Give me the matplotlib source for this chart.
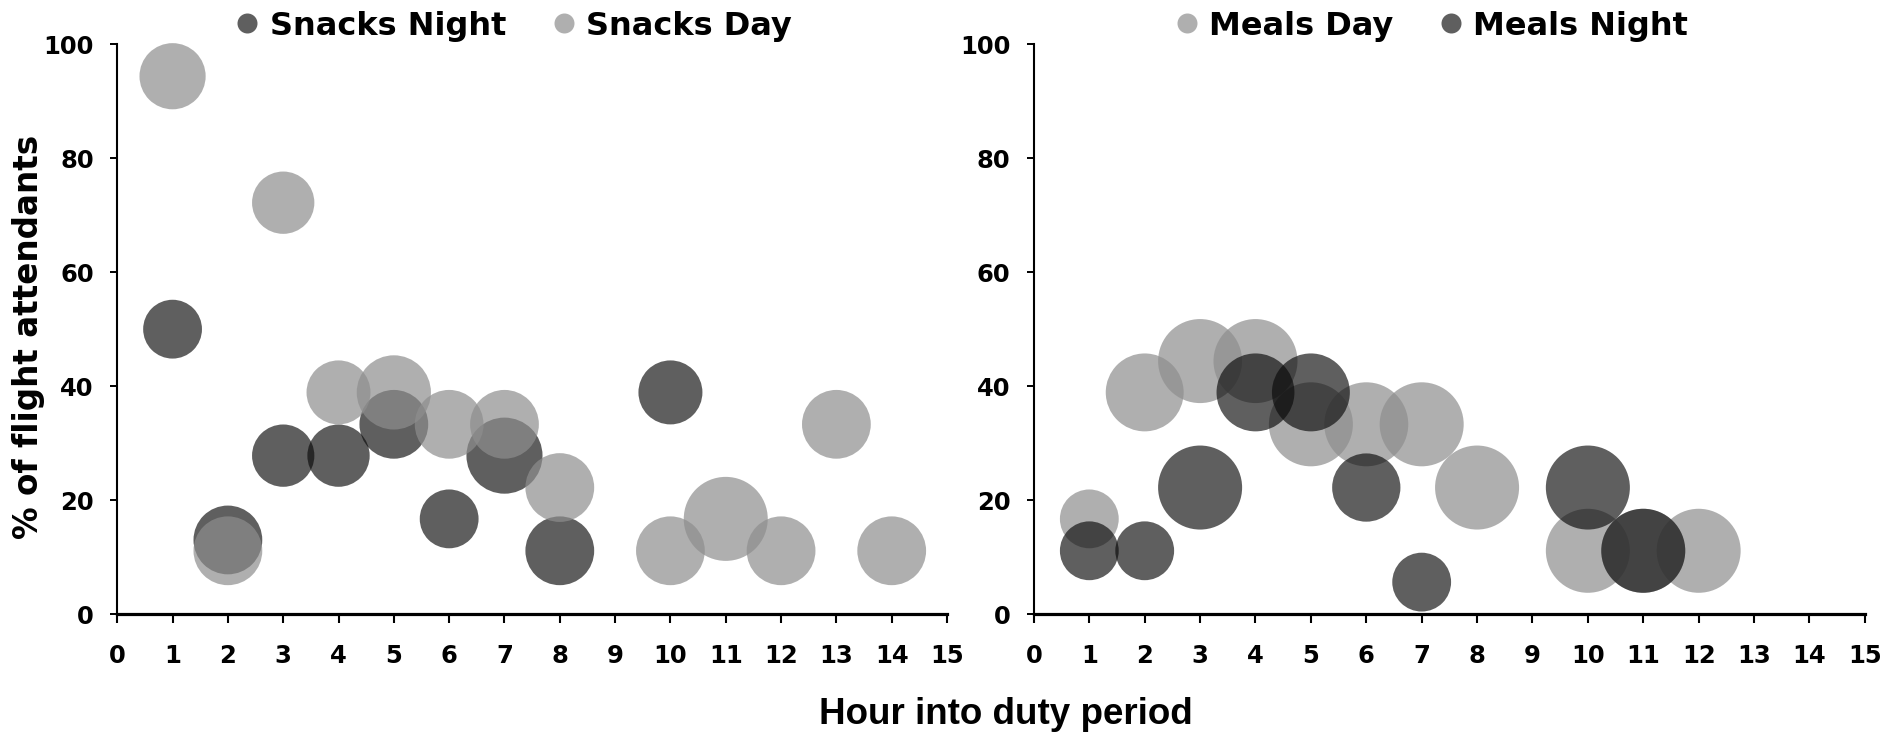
#Importing Libraries
import matplotlib
matplotlib.use('Agg')
import matplotlib.pyplot as plt
from matplotlib.lines import Line2D

#Data - Snacks (left panel)
snack_night_hour = [1, 2, 3, 4, 5, 6, 7, 8, 10]
snack_night_pct = [50.0, 13.0, 27.8, 27.8, 33.3, 16.7, 27.8, 11.1, 38.9]
snack_night_size = [49, 67, 55, 55, 67, 49, 82, 67, 58]

snack_day_hour = [1, 2, 3, 4, 5, 6, 7, 8, 10, 11, 12, 13, 14]
snack_day_pct = [94.4, 11.1, 72.2, 38.9, 38.9, 33.3, 33.3, 22.2, 11.1, 16.7, 11.1, 33.3, 11.1]
snack_day_size = [62, 67, 55, 58, 78, 67, 67, 67, 67, 100, 67, 67, 67]

#Data - Meals (right panel)
meal_day_hour = [1, 2, 3, 4, 5, 6, 7, 8, 10, 11, 12]
meal_day_pct = [16.7, 38.9, 44.4, 44.4, 33.3, 33.3, 33.3, 22.2, 11.1, 11.1, 11.1]
meal_day_size = [49, 86, 100, 100, 100, 100, 100, 100, 100, 100, 100]

meal_night_hour = [1, 2, 3, 4, 5, 6, 7, 10, 11]
meal_night_pct = [11.1, 11.1, 22.2, 38.9, 38.9, 22.2, 5.6, 22.2, 11.1]
meal_night_size = [49, 49, 100, 86, 86, 66, 49, 100, 100]

x_ticks = list(range(0, 16))
y_ticks = [0, 20, 40, 60, 80, 100]

#Styles
FONT = 'DejaVu Sans'
DARK = '#0a0a0a'
LIGHT = '#8e8e8e'
DARK_A = 0.65
LIGHT_A = 0.70
SIZE_SCALE = 36.6  # points^2 per size unit

fig = plt.figure(figsize=(18.85, 7.35), dpi=100)
ax1 = fig.add_axes([0.0622, 0.1646, 0.4402, 0.7751])
ax2 = fig.add_axes([0.5485, 0.1646, 0.4408, 0.7751])


def bubbles(ax, hours, pct, size, color, alpha):
    ax.scatter(hours, pct, s=[v * SIZE_SCALE for v in size], color=color,
               alpha=alpha, linewidths=0, clip_on=False, zorder=3)


#Plot 1 : Snacks (night drawn first, day on top)
bubbles(ax1, snack_night_hour, snack_night_pct, snack_night_size, DARK, DARK_A)
bubbles(ax1, snack_day_hour, snack_day_pct, snack_day_size, LIGHT, LIGHT_A)

#Plot 2 : Meals (day drawn first, night on top)
bubbles(ax2, meal_day_hour, meal_day_pct, meal_day_size, LIGHT, LIGHT_A)
bubbles(ax2, meal_night_hour, meal_night_pct, meal_night_size, DARK, DARK_A)

#Axes formatting
for ax in (ax1, ax2):
    ax.set_xlim(0, 15)
    ax.set_ylim(0, 100)
    ax.set_xticks(x_ticks)
    ax.set_yticks(y_ticks)
    ax.spines['top'].set_visible(False)
    ax.spines['right'].set_visible(False)
    ax.spines['bottom'].set_linewidth(2.3)
    ax.spines['left'].set_linewidth(1.5)
    ax.tick_params(axis='x', direction='out', length=6.5, width=1.5, pad=15,
                   labelsize=17.5)
    ax.tick_params(axis='y', direction='out', length=5, width=1.4, pad=12,
                   labelsize=17.5)
    for lab in ax.get_xticklabels() + ax.get_yticklabels():
        lab.set_fontweight('bold')
        lab.set_family(FONT)

#Legends
def legend_handle(color, alpha, label):
    return Line2D([], [], linestyle='none', marker='o', markersize=14.4,
                  markerfacecolor=color, markeredgewidth=0, alpha=alpha,
                  label=label)


leg_props = dict(loc='center', ncol=2, frameon=False, handlelength=0.7,
                 handletextpad=0.35, columnspacing=1.45, borderaxespad=0,
                 prop={'family': FONT, 'weight': 'bold', 'size': 23})
ax1.legend(handles=[legend_handle(DARK, DARK_A, 'Snacks Night'),
                    legend_handle(LIGHT, LIGHT_A, 'Snacks Day')],
           bbox_to_anchor=(0.478, 1.032), **leg_props)
ax2.legend(handles=[legend_handle(LIGHT, LIGHT_A, 'Meals Day'),
                    legend_handle(DARK, DARK_A, 'Meals Night')],
           bbox_to_anchor=(0.479, 1.032), **leg_props)

#Axis titles
fig.text(0.015, 0.542, '% of flight attendants', rotation=90, ha='center',
         va='center', family=FONT, fontweight='bold', fontsize=23.5)
fig.text(0.5335, 0.0145, 'Hour into duty period', ha='center', va='baseline',
         family='Liberation Sans', fontweight='bold', fontsize=26.5)

fig.savefig('out.png', dpi=100)
